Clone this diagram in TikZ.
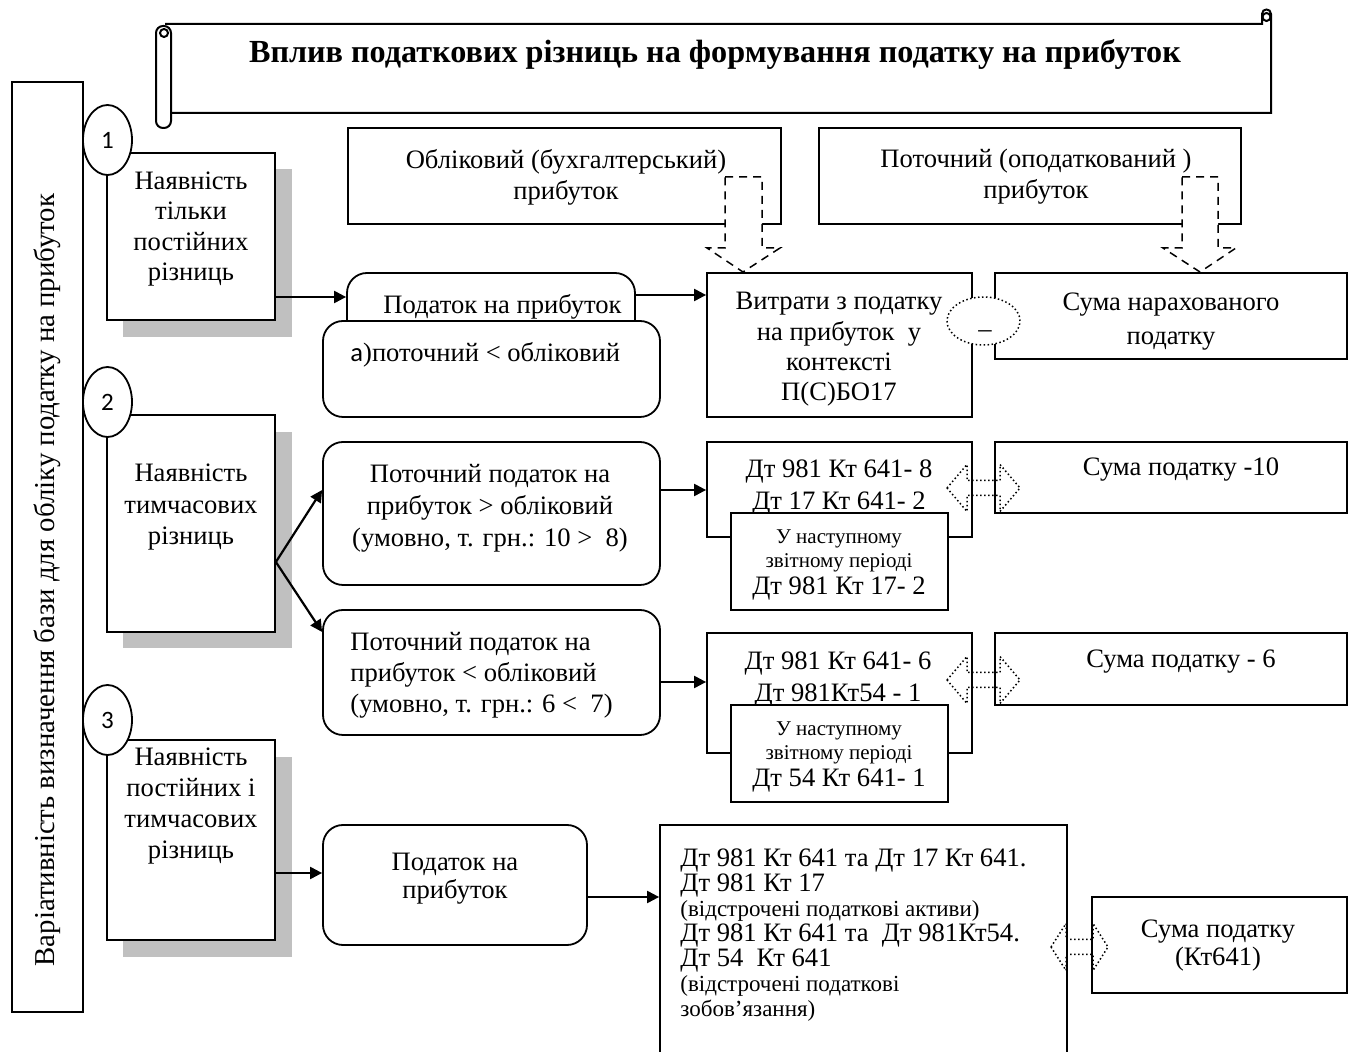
\documentclass[tikz,border=0pt]{standalone}
\usepackage{fontspec}
\setmainfont{Liberation Serif}
\newfontfamily\calfont{Carlito}
\usetikzlibrary{arrows.meta,shapes.geometric,fit,calc}
\newcommand\mainsz{\fontsize{13.3}{15.5}\selectfont}
\newcommand\notesz{\fontsize{10.5}{12}\selectfont}
\newcommand\remsz{\fontsize{11.5}{12.5}\selectfont}
\definecolor{shadowgrey}{RGB}{192,192,192}
\tikzset{pics/lrarrow/.style 2 args={code={
  \draw[blockdot] (-#1,0) -- ({-#1+#2},-23.5) -- ({-#1+#2},-7.5) -- ({#1-#2},-7.5) -- ({#1-#2},-23.5) -- (#1,0)
     -- ({#1-#2},23.5) -- ({#1-#2},7.5) -- ({-#1+#2},7.5) -- ({-#1+#2},23.5) -- cycle;
}}}
\begin{document}
\begin{tikzpicture}[x=0.5pt,y=-0.5pt,
  every node/.style={font=\mainsz, inner sep=0pt},
  frame/.style={draw, line width=0.9pt, fill=white, inner sep=0pt},
  roundbox/.style={frame, rounded corners=10pt},
  num/.style={draw, line width=0.9pt, fill=white, ellipse, minimum width=24.5pt, minimum height=35pt,
    inner sep=0pt, font=\calfont\fontsize{12.5}{15}\selectfont},
  txt/.style={align=center},
  arr/.style={line width=1.1pt, -{Triangle[length=6pt,width=6pt]}},
  blockdash/.style={draw, fill=white, line width=0.75pt, dash pattern=on 4pt off 3pt},
  blockdot/.style={draw, line width=0.75pt, dash pattern=on 0.75pt off 1.25pt},
  scrollst/.style={line width=1pt},
]
\useasboundingbox (0,0) rectangle (1356,1052);

% side band with the rotated caption
\node[frame, fill=none, fit={(12,82)(83,1012)}] (band) {};
\node[rotate=90, font=\fontsize{14.4}{16}\selectfont] (bandtxt) at (47,580)
  {Варіативність визначення бази для обліку податку на прибуток};

% heading scroll
\draw[scrollst] (165,24) -- (1262,24) -- (1262,14) .. controls (1262,8) and (1271,8) .. (1271,14)
  -- (1271,113) -- (171,113);
\draw[scrollst, fill=white, rounded corners=3.5pt] (156,26) rectangle (171,128);
\draw[scrollst] (164,33) circle[radius=2pt];
\draw[scrollst] (1266.5,17) circle[radius=2pt];
\node[font=\bfseries\fontsize{16.1}{19}\selectfont] (title) at (715,54)
  {Вплив податкових різниць на формування податку на прибуток};

% profit boxes
\node[frame, fit={(348,128)(781,224)}] (obl) {};
\node[txt] (oblt) at (566,177) {Обліковий (бухгалтерський)\\прибуток};
\node[frame, fit={(819,128)(1241,224)}] (pot) {};
\node[txt] (pott) at (1036,177) {Поточний (оподаткований )\\прибуток};
\draw[blockdash] (725,177) -- (762,177) -- (762,248) -- (780,248) -- (743,272) -- (707,248) -- (725,248) -- cycle;
\draw[blockdash] (1182,177) -- (1218,177) -- (1218,248) -- (1236,248) -- (1200,272) -- (1163,248) -- (1182,248) -- cycle;

% case 1
\fill[shadowgrey] (123,169) rectangle (292,337);
\node[frame, fit={(107,153)(275,320)}] (b1) {};
\node[txt, font=\fontsize{13.3}{15.25}\selectfont] (b1t) at (191,229) {Наявність\\тільки\\постійних\\різниць};
\node[num] (n1) at (107.5,140) {1};

% case 2
\fill[shadowgrey] (123,432) rectangle (292,648);
\node[frame, fit={(107,415)(275,632)}] (b2) {};
\node[txt, font=\fontsize{13.3}{15.75}\selectfont] (b2t) at (191,507.5) {Наявність\\тимчасових\\різниць};
\node[num] (n2) at (107.5,402) {2};

% case 3
\fill[shadowgrey] (123,757) rectangle (292,957);
\node[frame, fit={(107,740)(275,940)}] (b3) {};
\node[txt, font=\fontsize{13.3}{15.5}\selectfont] (b3t) at (191,806.5) {Наявність\\постійних і\\тимчасових\\різниць};
\node[num] (n3) at (107.5,720) {3};

% row 1
\node[roundbox, fit={(347,273)(635,345)}] (pod1) {};
\node (pod1t) at (502.5,307) {Податок на прибуток};
\node[roundbox, fit={(323,321)(660,417)}] (cur1) {};
\node[anchor=west] (cur1t) at (350,355) {{\calfont а})поточний < обліковий};
\node[frame, fit={(707,273)(972,417)}] (vit) {};
\node[txt, font=\fontsize{13.3}{15.2}\selectfont] (vitt) at (839,349.5) {Витрати з податку\\на прибуток\ \ у\\контексті\\П(С)БО17};
\node[frame, fit={(995,273)(1347,359)}] (s0) {};
\node[txt, font=\fontsize{13.3}{17}\selectfont] (s0t) at (1171,322) {Сума нарахованого\\податку};
\node[ellipse, blockdot, fill=white, minimum width=36.5pt, minimum height=24pt] (minus) at (983.5,321) {};
\node (minust) at (985,334) {–};
\draw[arr] (b1.east |- 0,297) -- (pod1.west |- 0,297);
\draw[arr] (pod1.east |- 0,295) -- (vit.west |- 0,295);

% row 2
\node[roundbox, fit={(323,442)(660,585)}] (gt) {};
\node[txt, font=\fontsize{13.3}{16}\selectfont] (gtt) at (490,508) {Поточний податок на\\прибуток > обліковий\\(умовно, т. грн.: 10 >\ \ 8)};
\node[roundbox, fit={(323,610)(660,735)}] (lt) {};
\node[align=left, anchor=west] (ltt) at (350,675) {Поточний податок на\\прибуток < обліковий\\(умовно, т. грн.: 6 <\ \ 7)};

\node[frame, fit={(707,442)(972,537)}] (dt1) {};
\node[txt, font=\fontsize{13.3}{16}\selectfont] (dt1t) at (839,487) {Дт 981 Кт 641- 8\\Дт 17 Кт 641- 2};
\node[frame, fit={(731,513)(948,610)}] (dt1n) {};
\node[txt, font=\notesz] (dt1nt) at (839,565) {У наступному\\звітному періоді\\[1.5pt]{\mainsz Дт 981 Кт 17- 2}};
\node[frame, fit={(995,442)(1347,513)}] (s1) {};
\node (s1t) at (1181,470) {Сума податку -10};

\node[frame, fit={(707,633)(972,753)}] (dt2) {};
\node[txt, font=\fontsize{13.3}{16}\selectfont] (dt2t) at (838,679) {Дт 981 Кт 641- 6\\Дт 981Кт54 - 1};
\node[frame, fit={(731,705)(948,802)}] (dt2n) {};
\node[txt, font=\notesz] (dt2nt) at (839,757) {У наступному\\звітному періоді\\[1.5pt]{\mainsz Дт 54 Кт 641- 1}};
\node[frame, fit={(995,633)(1347,705)}] (s2) {};
\node (s2t) at (1181,662) {Сума податку - 6};

\coordinate (m1) at ($(dt1.east)!.5!(s1.west)$);
\coordinate (m2) at ($(dt2.east)!.5!(s2.west)$);
\pic at (m1 |- 0,488) {lrarrow={36.5}{20}};
\pic at (m2 |- 0,680) {lrarrow={36.5}{20}};

\draw[arr] (b2.east |- 0,562) -- (gt.west |- 0,490);
\draw[arr] (b2.east |- 0,562) -- (lt.west |- 0,632);
\draw[arr] (gt.east |- 0,490) -- (dt1.west |- 0,490);
\draw[arr] (lt.east |- 0,682) -- (dt2.west |- 0,682);

% row 3
\node[roundbox, fit={(323,825)(587,945)}] (pod3) {};
\node[txt, font=\fontsize{13.3}{14}\selectfont] (pod3t) at (455,879) {Податок на\\прибуток};
\node[frame, fit={(660,825)(1067,1070)}] (big) {};
\node[align=left, anchor=north west, font=\fontsize{13.3}{12.5}\selectfont] (bigt) at (680,848)
  {Дт 981 Кт 641 та Дт 17 Кт 641.\\
   Дт 981 Кт 17\\
   {\remsz (відстрочені податкові активи)}\\
   Дт 981 Кт 641 та\ \ Дт 981Кт54.\\
   Дт 54\ \ Кт 641\\
   {\remsz (відстрочені податкові}\\
   {\remsz зобов’язання)}};
\node[frame, fit={(1092,897)(1347,993)}] (s3) {};
\node[txt, font=\fontsize{13.3}{14}\selectfont] (s3t) at (1218,946) {Сума податку\\(Кт641)};
\coordinate (m3) at ($(big.east)!.5!(s3.west)$);
\pic at (m3 |- 0,947) {lrarrow={28.5}{15}};

\draw[arr] (b3.east |- 0,873) -- (pod3.west |- 0,873);
\draw[arr] (pod3.east |- 0,897) -- (big.west |- 0,897);
\end{tikzpicture}
\end{document}
